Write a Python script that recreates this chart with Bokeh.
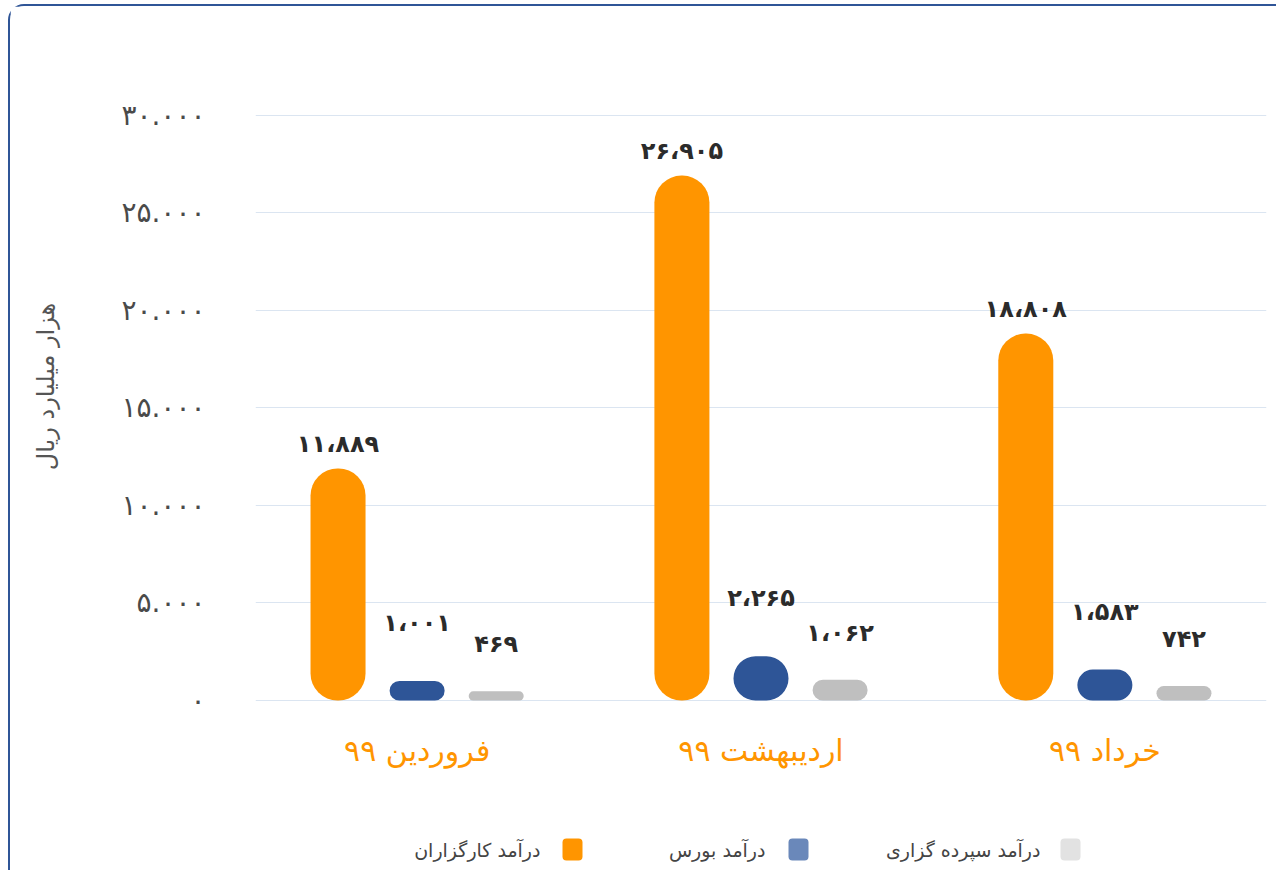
from bokeh.plotting import figure
from bokeh.layouts import column
from bokeh.models import FactorRange, Range1d, FixedTicker, ColumnDataSource
from bokeh.transform import dodge
from bokeh.core.properties import value
from bokeh.embed import file_html
from bokeh.resources import INLINE

# ---------------- data ----------------
months = ["فروردین ۹۹", "اردیبهشت ۹۹", "خرداد ۹۹"]
broker_income = [11889, 26905, 18808]     # درآمد کارگزاران
exchange_income = [1001, 2265, 1583]      # درآمد بورس
deposit_income = [469, 1062, 742]         # درآمد سپرده گزاری
series_names = ["درآمد کارگزاران", "درآمد بورس", "درآمد سپرده گزاری"]
y_ticks = [0, 5000, 10000, 15000, 20000, 25000, 30000]
y_tick_labels = ["۰", "۵.۰۰۰", "۱۰.۰۰۰", "۱۵.۰۰۰", "۲۰.۰۰۰", "۲۵.۰۰۰", "۳۰.۰۰۰"]
y_title = "هزار میلیارد ریال"

# ---------------- styles ----------------
FONT = "DejaVu Sans"
BORDER = "2px solid #2f5597"
bar_colors = ["#ff9500", "#2e5597", "#bfbfbf"]
legend_colors = ["#ff9500", "#6a88ba", "#e2e2e2"]
offsets = [-0.23, 0.0, 0.23]
label_offsets = [-25, -58, -47]

FA_DIGITS = str.maketrans("0123456789", "۰۱۲۳۴۵۶۷۸۹")


def fa_number(v):
    return f"{v:,}".replace(",", "،").translate(FA_DIGITS)


series = [broker_income, exchange_income, deposit_income]
data = {"month": months}
for i, vals in enumerate(series):
    data[f"v{i}"] = vals
    data[f"l{i}"] = [fa_number(v) for v in vals]
src = ColumnDataSource(data)

W = 1268
p = figure(
    x_range=FactorRange(*months, range_padding=-0.02),
    y_range=Range1d(-615, 32806),
    width=W, height=786,
    output_backend="svg", toolbar_location=None,
    min_border_left=245, min_border_right=12,
    min_border_top=54, min_border_bottom=80,
)
p.outline_line_color = None
p.background_fill_color = "white"
p.border_fill_color = "white"
p.styles = {
    "border-top": BORDER,
    "border-left": BORDER,
    "border-top-left-radius": "16px",
    "margin-left": "8px",
    "margin-top": "4px",
}

for i in range(3):
    xs = dodge("month", offsets[i], range=p.x_range)
    p.vbar(x=xs, top=f"v{i}", bottom=0, width=0.16, source=src,
           fill_color=bar_colors[i], line_color=None, border_radius=27)
    p.text(x=xs, y=f"v{i}", text=f"l{i}", source=src, y_offset=label_offsets[i],
           text_align="center", text_baseline="middle",
           text_font=value(FONT), text_font_style="bold",
           text_font_size="24px", text_color="#2b2b2b")

# axes
p.xaxis.axis_line_color = None
p.xaxis.major_tick_line_color = None
p.xaxis.minor_tick_line_color = None
p.xaxis.major_label_text_color = "#ff9500"
p.xaxis.major_label_text_font = FONT
p.xaxis.major_label_text_font_size = "30px"
p.xaxis.major_label_standoff = 14

p.yaxis.ticker = FixedTicker(ticks=y_ticks)
p.yaxis.major_label_overrides = dict(zip(y_ticks, y_tick_labels))
p.yaxis.axis_line_color = None
p.yaxis.major_tick_line_color = None
p.yaxis.minor_tick_line_color = None
p.yaxis.major_label_text_color = "#4a4a4a"
p.yaxis.major_label_text_font = FONT
p.yaxis.major_label_text_font_size = "28px"
p.yaxis.major_label_standoff = 44
p.yaxis.axis_label = y_title
p.yaxis.axis_label_text_font = FONT
p.yaxis.axis_label_text_font_style = "normal"
p.yaxis.axis_label_text_font_size = "24px"
p.yaxis.axis_label_text_color = "#555555"
p.yaxis.axis_label_standoff = 58

p.xgrid.grid_line_color = None
p.ygrid.grid_line_color = "#dbe5f1"
p.ygrid.grid_line_width = 1

# ---------------- legend strip (RTL: marker right of label) ----------------
# its frame is aligned with the chart frame (1011 px wide)
LH = 80
FW = 1011
leg = figure(width=W, height=LH, x_range=Range1d(0, FW), y_range=Range1d(0, LH),
             output_backend="svg", toolbar_location=None,
             min_border_left=245, min_border_right=12,
             min_border_top=0, min_border_bottom=0)
leg.axis.visible = False
leg.grid.visible = False
leg.outline_line_color = None
leg.styles = {"border-left": BORDER, "margin-left": "8px"}

legend_sq_x = [307, 533, 805]
legend_txt_x = [285, 510, 785]
legend_y = 21
leg.block(x=legend_sq_x, y=[legend_y - 11] * 3, width=20, height=22,
          fill_color=legend_colors, line_color=None, border_radius=4)
leg.text(x=legend_txt_x, y=[legend_y] * 3, text=series_names,
         text_align="right", text_baseline="middle",
         text_font=value(FONT), text_font_size="19px", text_color="#444444")

layout = column(p, leg, spacing=0)
open("out.html", "w").write(file_html(layout, INLINE))
